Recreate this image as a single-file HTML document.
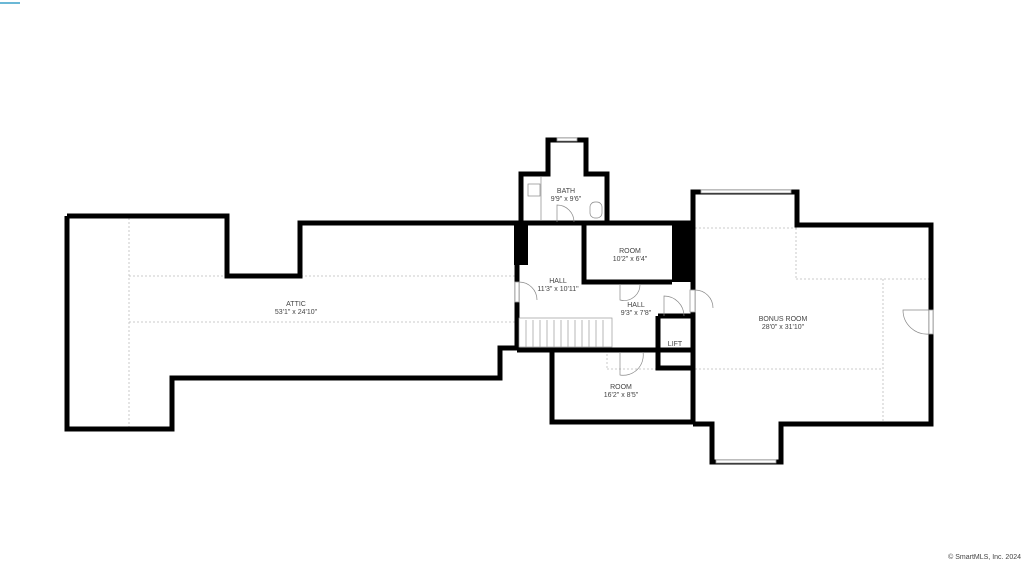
<!DOCTYPE html>
<html><head><meta charset="utf-8"><style>
html,body{margin:0;padding:0;background:#fff;width:1024px;height:562px;overflow:hidden}
text{font-family:"Liberation Sans",sans-serif;fill:#444;font-size:7px;text-anchor:middle}
</style></head><body>
<svg width="1024" height="562" viewBox="0 0 1024 562" xmlns="http://www.w3.org/2000/svg">
<line x1="0" y1="3" x2="20" y2="3" stroke="#3aa0c8" stroke-width="1.5"/>
<g stroke="#bbb" stroke-width="0.8" stroke-dasharray="2,2" fill="none">
<line x1="129" y1="218" x2="129" y2="427"/>
<line x1="129" y1="276" x2="516" y2="276"/>
<line x1="129" y1="322" x2="516" y2="322"/>
<line x1="695" y1="228" x2="797" y2="228"/>
<line x1="796" y1="228" x2="796" y2="279"/>
<line x1="796" y1="279" x2="929" y2="279"/>
<line x1="883" y1="279" x2="883" y2="422"/>
<line x1="695" y1="369" x2="883" y2="369"/>
<line x1="607" y1="350" x2="607" y2="369"/>
<line x1="607" y1="369" x2="658" y2="369"/>
</g>
<g stroke="#000" stroke-width="5" fill="none" stroke-linejoin="miter">
<polyline points="67,216 227,216 227,276 300,276 300,223 517,223 517,348 500,348 500,378 172,378 172,429 67,429 67,216"/>
<polyline points="521,223 521,174 548,174 548,140 586,140 586,174 607,174 607,223"/>
<line x1="517" y1="223" x2="693" y2="223"/>
<polyline points="693,424 693,192 797,192 797,225 931,225 931,424 781,424 781,462 712,462 712,424 693,424"/>
<polyline points="584,223 584,282 672,282"/>
<line x1="517" y1="350" x2="693" y2="350"/>
<polyline points="552,350 552,422 693,422"/>
<polyline points="658,316 658,368 692,368"/>
<line x1="658" y1="316" x2="692" y2="316"/>
</g>
<rect x="514" y="225" width="14" height="40" fill="#000"/>
<rect x="672" y="225" width="21" height="57" fill="#000"/>
<g fill="#fff" stroke="#999" stroke-width="0.8">
<rect x="701" y="190" width="90" height="3"/>
<rect x="716" y="460" width="60" height="3"/>
<rect x="557" y="138" width="20" height="3"/>
<rect x="515" y="282" width="4" height="20"/>
<rect x="929" y="310" width="4" height="24"/>
<rect x="690" y="290" width="5" height="22"/>
</g>
<g fill="none" stroke="#888" stroke-width="0.7">
<path d="M519,282 A18,18 0 0 1 537,300"/>
<path d="M557,222 L557,205 A17,17 0 0 1 574,222"/>
<path d="M620,284 L620,300 A16,16 0 0 0 640,284"/>
<path d="M695,290 A18,18 0 0 1 713,308"/>
<path d="M664,316 L664,296 A20,20 0 0 1 684,316"/>
<path d="M620,352 L620,375 A20,20 0 0 0 643,352"/>
<path d="M929,310 L903,310 A24,24 0 0 0 929,334"/>
<rect x="528" y="184" width="12" height="12"/>
<rect x="590" y="202" width="12" height="16" rx="5"/>
<line x1="541" y1="177" x2="541" y2="220"/>
</g>
<g stroke="#999" stroke-width="0.7">
<rect x="519" y="318" width="93" height="29" fill="#fff"/>
<line x1="526" y1="320" x2="526" y2="347"/><line x1="533" y1="320" x2="533" y2="347"/>
<line x1="540" y1="320" x2="540" y2="347"/><line x1="547" y1="320" x2="547" y2="347"/>
<line x1="554" y1="320" x2="554" y2="347"/><line x1="561" y1="320" x2="561" y2="347"/>
<line x1="568" y1="320" x2="568" y2="347"/><line x1="575" y1="320" x2="575" y2="347"/>
<line x1="582" y1="320" x2="582" y2="347"/><line x1="589" y1="320" x2="589" y2="347"/>
<line x1="596" y1="320" x2="596" y2="347"/><line x1="603" y1="320" x2="603" y2="347"/>
</g>
<text x="296" y="306">ATTIC</text><text x="296" y="314">53'1" x 24'10"</text>
<text x="566" y="193">BATH</text><text x="566" y="201">9'9" x 9'6"</text>
<text x="630" y="253">ROOM</text><text x="630" y="261">10'2" x 6'4"</text>
<text x="558" y="283">HALL</text><text x="558" y="291">11'3" x 10'11"</text>
<text x="636" y="307">HALL</text><text x="636" y="315">9'3" x 7'8"</text>
<text x="675" y="346" font-size="6">LIFT</text>
<text x="621" y="389">ROOM</text><text x="621" y="397">16'2" x 8'5"</text>
<text x="783" y="321">BONUS ROOM</text><text x="783" y="329">28'0" x 31'10"</text>
<text x="1021" y="559" font-size="5" fill="#777" style="text-anchor:end">© SmartMLS, Inc. 2024</text>
</svg>
</body></html>
